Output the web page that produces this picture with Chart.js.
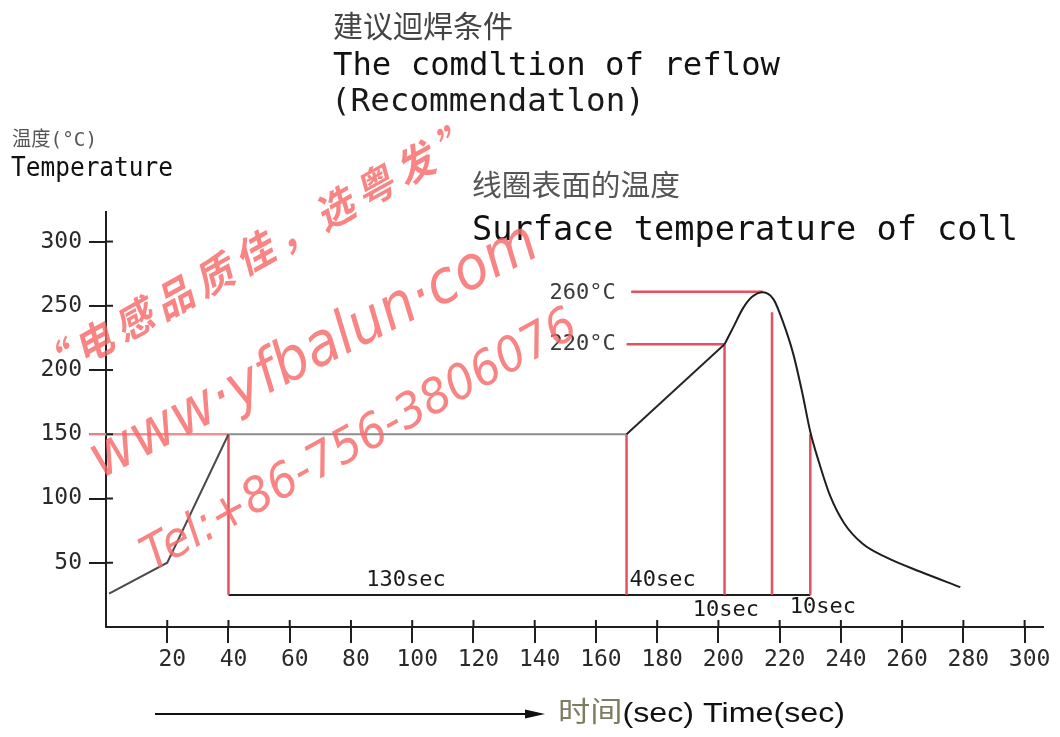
<!DOCTYPE html>
<html>
<head>
<meta charset="utf-8">
<script src="https://cdn.jsdelivr.net/npm/chart.js@4.4.1/dist/chart.umd.min.js"></script>
<style>
  html, body { margin: 0; padding: 0; background: #fff; }
  #wrap { position: relative; width: 1060px; height: 737px; overflow: hidden; }
  #c { position: absolute; left: 0; top: 0; }
  .t { position: absolute; white-space: nowrap; line-height: 1; transform-origin: left top;
       font-family: "DejaVu Sans Mono", "Noto Sans CJK SC", monospace; }
  .wm { position: absolute; white-space: nowrap; line-height: 1; color: rgba(246, 105, 105, 0.82);
        font-style: italic; pointer-events: none; z-index: 5; }
</style>
</head>
<body>
<div id="wrap">
  <canvas id="c" width="1060" height="737"></canvas>

  <div class="t" data-w="180" style="left:333px;top:9px;font-size:30px;color:#444;font-family:'Noto Sans CJK SC',sans-serif;">建议迴焊条件</div>
  <div class="t" data-w="447" style="left:333px;top:48px;font-size:32px;color:#111;">The comdltion of reflow</div>
  <div class="t" data-w="314" style="left:331px;top:84px;font-size:32px;color:#1a1a1a;">(Recommendatlon)</div>

  <div class="t" data-w="85" style="left:12px;top:129px;font-size:20px;color:#555;">温度(°C)</div>
  <div class="t" data-w="162" style="left:11px;top:154px;font-size:26px;color:#111;">Temperature</div>

  <div class="t" data-w="208" style="left:472px;top:169px;font-size:29px;color:#555;font-family:'Noto Sans CJK SC',sans-serif;">线圈表面的温度</div>
  <div class="t" data-w="546" style="left:472px;top:211px;font-size:34px;color:#111;">Surface temperature of coll</div>

  <div class="t" data-w="287" style="left:558px;top:699px;font-size:28px;color:#111;font-family:'Liberation Sans','Noto Sans CJK SC',sans-serif;"><span style="color:#7d7d62">时间</span>(sec) Time(sec)</div>

  <div class="wm" data-w="505" data-a="-29" style="left:256px;top:250px;font-size:40px;font-weight:700;letter-spacing:8px;font-family:'Noto Sans CJK SC',sans-serif;">“电感品质佳，选粤发”</div>
  <div class="wm" data-w="495" data-a="-27" style="left:312px;top:348px;font-size:60px;font-family:'DejaVu Sans',sans-serif;">www·yfbalun·com</div>
  <div class="wm" data-w="490" data-a="-29" style="left:358px;top:438px;font-size:48px;font-family:'DejaVu Sans',sans-serif;">Tel:+86-756-3806076</div>
</div>

<script>
// ---------------- data ----------------
const timeTicks = [20, 40, 60, 80, 100, 120, 140, 160, 180, 200, 220, 240, 260, 280, 300];
const tempTicks = [50, 100, 150, 200, 250, 300];

// preheat / soak / ramp part of the profile (straight segments)
const rampTime = [1, 20, 40, 170, 202];
const rampTemp = [26, 50, 150, 150, 220];

// reflow peak and cooling part of the profile (smooth curve)
const peakTime = [202, 205, 208, 211, 214.5, 218, 221, 224.5, 227.5, 230, 233, 236.5, 241, 247, 255, 266, 279];
const peakTemp = [220, 234, 248, 257, 260.5, 255, 238, 212, 181, 152, 127, 102, 81, 65, 54, 43, 31];

// red marker lines
const markerTimes = [40, 170, 202, 217.5, 230];
const markerTops  = [150, 150, 220, 245, 150];
const baseTemp = 25;
const baseStart = 40, baseEnd = 230;
const soakStartLevel = [-5.5, 40];        // x range of pink 150 line
const soakLevel = 150;
const levelTemps  = [261, 220];
const levelStarts = [171.5, 170];
const levelEnds   = [214.5, 202];
const levelLabels = ['260°C', '220°C'];
const durationLabels = ['130sec', '40sec', '10sec', '10sec'];

// ---------------- helpers ----------------
const pts = (xs, ys) => xs.map((x, i) => ({ x: x, y: ys[i] }));
const RED = 'rgba(228, 72, 84, 0.95)';
const MONO = '"DejaVu Sans Mono", monospace';

const datasets = [];
datasets.push({
  data: pts(rampTime, rampTemp), borderColor: '#262626', borderWidth: 2, order: 0, tension: 0,
  segment: {
    borderColor: c => (c.p0.parsed.x >= 40 && c.p1.parsed.x <= 170) ? '#8c8c8c'
                    : (c.p1.parsed.x <= 40 ? '#4a4a4a' : undefined)
  }
});
datasets.push({
  data: pts(peakTime, peakTemp), borderColor: '#1e1e1e', borderWidth: 2,
  cubicInterpolationMode: 'monotone', order: 0
});
markerTimes.forEach((t, i) => {
  datasets.push({ data: [{ x: t, y: baseTemp }, { x: t, y: markerTops[i] }],
    borderColor: RED, borderWidth: 2.5, order: 1 });
});
levelTemps.forEach((v, i) => {
  datasets.push({ data: [{ x: levelStarts[i], y: v }, { x: levelEnds[i], y: v }],
    borderColor: RED, borderWidth: 2.5, order: 1 });
});
datasets.push({ data: [{ x: soakStartLevel[0], y: soakLevel }, { x: soakStartLevel[1], y: soakLevel }],
  borderColor: 'rgba(236, 140, 140, 0.95)', borderWidth: 2.5, order: 1, clip: false });
datasets.push({ data: [{ x: baseStart, y: baseTemp }, { x: baseEnd, y: baseTemp }],
  borderColor: '#1e1e1e', borderWidth: 2, order: 1 });
datasets.forEach(d => { d.pointRadius = 0; d.fill = false; if (d.tension === undefined) d.tension = 0; });

// annotation label anchors (data units)
const labelAnchors = [
  { text: levelLabels[0], x: 166.5, y: levelTemps[0] - 1, align: 'right', color: '#3a3a3a' },
  { text: levelLabels[1], x: 166.5, y: levelTemps[1], align: 'right', color: '#3a3a3a' },
  { text: durationLabels[0], x: 98, y: 36, align: 'center', color: '#1a1a1a' },
  { text: durationLabels[1], x: 171, y: 36, align: 'left', color: '#1a1a1a' },
  { text: durationLabels[2], x: 191.6, y: 13, align: 'left', color: '#1a1a1a' },
  { text: durationLabels[3], x: 223.3, y: 15, align: 'left', color: '#1a1a1a' }
];

const extrasPlugin = {
  id: 'extras',
  afterDraw(chart) {
    const ctx = chart.ctx, xs = chart.scales.x, ys = chart.scales.y;
    ctx.save();
    // inner halves of the crossing tick marks
    ctx.strokeStyle = '#1e1e1e'; ctx.lineWidth = 2;
    ys.ticks.forEach(t => {
      const py = ys.getPixelForValue(t.value);
      ctx.beginPath(); ctx.moveTo(xs.left, py); ctx.lineTo(xs.left + 7, py); ctx.stroke();
    });
    xs.ticks.forEach(t => {
      const px = xs.getPixelForValue(t.value);
      ctx.beginPath(); ctx.moveTo(px, ys.bottom); ctx.lineTo(px, ys.bottom - 7); ctx.stroke();
    });
    // annotation texts
    ctx.font = '22px ' + MONO;
    ctx.textBaseline = 'middle';
    labelAnchors.forEach(a => {
      ctx.fillStyle = a.color; ctx.textAlign = a.align;
      ctx.fillText(a.text, xs.getPixelForValue(a.x), ys.getPixelForValue(a.y));
    });
    // time arrow below the axis
    const ay = 714;
    ctx.strokeStyle = '#111'; ctx.fillStyle = '#111'; ctx.lineWidth = 2;
    ctx.beginPath(); ctx.moveTo(155, ay); ctx.lineTo(530, ay); ctx.stroke();
    ctx.beginPath(); ctx.moveTo(545, ay); ctx.lineTo(525, ay - 4.5); ctx.lineTo(525, ay + 4.5); ctx.closePath(); ctx.fill();
    ctx.restore();
  }
};

new Chart(document.getElementById('c'), {
  type: 'line',
  data: { datasets: datasets },
  options: {
    responsive: false, animation: false, parsing: true,
    layout: { padding: { left: 0, right: 17, top: 212, bottom: 50 } },
    plugins: { legend: { display: false }, tooltip: { enabled: false }, title: { display: false } },
    scales: {
      x: {
        type: 'linear', min: 0, max: 306,
        afterBuildTicks: s => { s.ticks = timeTicks.map(v => ({ value: v })); },
        afterFit: s => { s.height = 60; s.paddingLeft = 0; s.paddingRight = 0; },
        border: { color: '#1e1e1e', width: 2 },
        grid: { drawOnChartArea: false, drawTicks: true, tickLength: 16, color: '#1e1e1e', lineWidth: 2 },
        ticks: { color: '#2a2a2a', font: { family: MONO, size: 23 }, padding: 3, labelOffset: 5,
                 maxRotation: 0, autoSkip: false, callback: v => String(v) }
      },
      y: {
        type: 'linear', min: 0, max: 323,
        afterBuildTicks: s => { s.ticks = tempTicks.map(v => ({ value: v })); },
        afterFit: s => { s.width = 106; s.paddingTop = 0; s.paddingBottom = 0; },
        border: { color: '#1e1e1e', width: 2 },
        grid: { drawOnChartArea: false, drawTicks: true, tickLength: 17, color: '#1e1e1e', lineWidth: 2 },
        ticks: { color: '#2a2a2a', font: { family: MONO, size: 23 }, padding: 7, autoSkip: false,
                 callback: v => String(v) }
      }
    }
  },
  plugins: [extrasPlugin]
});

// fit overlay texts to their measured widths in the reference
function fitTexts() {
  document.querySelectorAll('.t').forEach(el => {
    el.style.transform = 'none';
    const w = el.getBoundingClientRect().width;
    el.style.transform = 'scaleX(' + (parseFloat(el.dataset.w) / w) + ')';
  });
  document.querySelectorAll('.wm').forEach(el => {
    el.style.transform = 'none';
    const w = el.getBoundingClientRect().width;
    const s = parseFloat(el.dataset.w) / w;
    el.style.transform = 'translate(-50%,-50%) rotate(' + el.dataset.a + 'deg) scaleX(' + s + ')';
  });
}
fitTexts();
if (document.fonts && document.fonts.ready) document.fonts.ready.then(fitTexts);
</script>
</body>
</html>
